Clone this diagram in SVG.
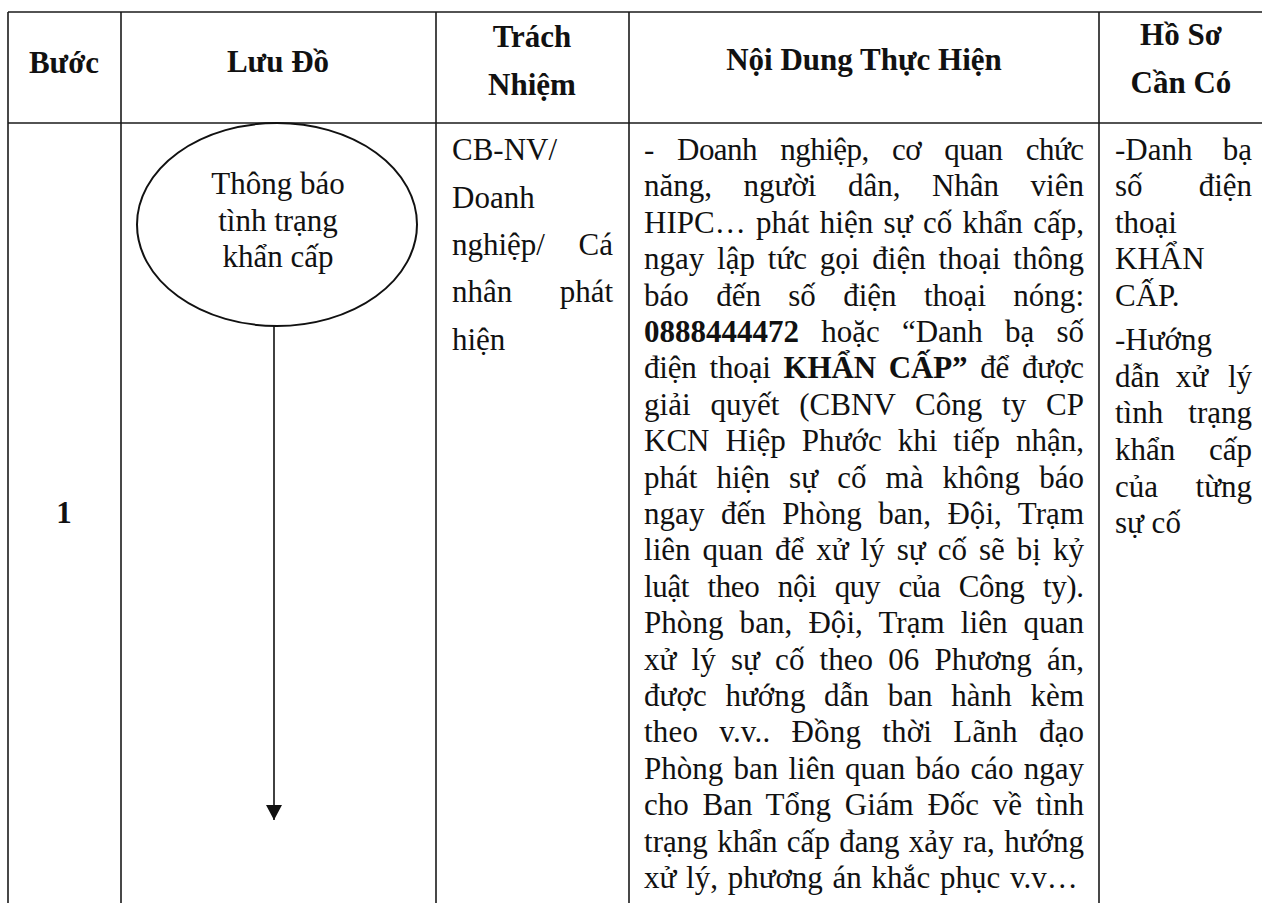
<svg xmlns="http://www.w3.org/2000/svg" width="1262" height="903" viewBox="0 0 1262 903">
  <style>
    .grid { stroke: #1a1a1a; stroke-width: 1.6; fill: none; }
    .t { font-family: "Liberation Serif", "Times New Roman", serif; font-size: 31px; fill: #111; }
    .h { font-family: "Liberation Serif", "Times New Roman", serif; font-size: 31px; font-weight: bold; fill: #111; }
    .c { text-anchor: middle; }
    .e { text-anchor: end; }
    .b { font-weight: bold; }
    .node { fill: none; stroke: #111; stroke-width: 2; }
    .conn { stroke: #111; stroke-width: 1.6; fill: none; }
  </style>
  <defs>
    <marker id="arrow" markerWidth="15" markerHeight="16" refX="15" refY="8" orient="auto" markerUnits="userSpaceOnUse" viewBox="0 0 15 16">
      <path d="M0,0 L15,8 L0,16 Z" fill="#111"/>
    </marker>
  </defs>
  <rect x="0" y="0" width="1262" height="903" fill="#ffffff"/>

  <g id="table-grid" class="grid">
    <line x1="8" y1="12" x2="1262" y2="12"/>
    <line x1="8" y1="123" x2="1262" y2="123"/>
    <line x1="8" y1="12" x2="8" y2="903"/>
    <line x1="121" y1="12" x2="121" y2="903"/>
    <line x1="436" y1="12" x2="436" y2="903"/>
    <line x1="629" y1="12" x2="629" y2="903"/>
    <line x1="1099" y1="12" x2="1099" y2="903"/>
  </g>

  <g id="header">
    <text class="h c" x="64" y="73">Bước</text>
    <text class="h c" x="278" y="72">Lưu Đồ</text>
    <text class="h c" x="532" y="47">Trách</text>
    <text class="h c" x="532" y="95">Nhiệm</text>
    <text class="h c" x="864" y="70">Nội Dung Thực Hiện</text>
    <text class="h c" x="1181" y="45">Hồ Sơ</text>
    <text class="h c" x="1181" y="93">Cần Có</text>
  </g>

  <g id="step-number">
    <text class="h c" x="64" y="523">1</text>
  </g>

  <g id="node-thong-bao">
    <ellipse class="node" cx="277" cy="224.5" rx="140" ry="101.5"/>
    <text class="t c" x="278" y="194">Thông báo</text>
    <text class="t c" x="278" y="231">tình trạng</text>
    <text class="t c" x="278" y="267">khẩn cấp</text>
  </g>

  <g id="connectors">
    <line class="conn" x1="274" y1="326" x2="274" y2="820" marker-end="url(#arrow)"/>
  </g>

  <g id="trach-nhiem">
    <text class="t" x="452" y="160">CB-NV/</text>
    <text class="t" x="452" y="208">Doanh</text>
    <text class="t" x="452" y="255">nghiệp/</text>
    <text class="t e" x="613" y="255">Cá</text>
    <text class="t" x="452" y="302">nhân</text>
    <text class="t e" x="613" y="302">phát</text>
    <text class="t" x="452" y="350">hiện</text>
  </g>

  <g id="noi-dung">
    <text class="t" x="644" y="160" word-spacing="16" textLength="440" lengthAdjust="spacing">- Doanh nghiệp, cơ quan chức</text>
    <text class="t" x="644" y="196.4" word-spacing="23.6" textLength="440" lengthAdjust="spacing">năng, người dân, Nhân viên</text>
    <text class="t" x="644" y="232.8" word-spacing="2.6" textLength="440" lengthAdjust="spacing">HIPC… phát hiện sự cố khẩn cấp,</text>
    <text class="t" x="644" y="269.2" word-spacing="5" textLength="440" lengthAdjust="spacing">ngay lập tức gọi điện thoại thông</text>
    <text class="t" x="644" y="305.6" word-spacing="19.6" textLength="440" lengthAdjust="spacing">báo đến số điện thoại nóng:</text>
    <text class="t" x="644" y="342" word-spacing="14.4" textLength="440" lengthAdjust="spacing"><tspan class="b">0888444472</tspan> hoặc “Danh bạ số</text>
    <text class="t" x="644" y="378.4" word-spacing="5.3" textLength="440" lengthAdjust="spacing">điện thoại <tspan class="b">KHẨN CẤP”</tspan> để được</text>
    <text class="t" x="644" y="414.8" word-spacing="12" textLength="440" lengthAdjust="spacing">giải quyết (CBNV Công ty CP</text>
    <text class="t" x="644" y="451.2" word-spacing="8.2" textLength="440" lengthAdjust="spacing">KCN Hiệp Phước khi tiếp nhận,</text>
    <text class="t" x="644" y="487.6" word-spacing="11.4" textLength="440" lengthAdjust="spacing">phát hiện sự cố mà không báo</text>
    <text class="t" x="644" y="524" word-spacing="8.6" textLength="440" lengthAdjust="spacing">ngay đến Phòng ban, Đội, Trạm</text>
    <text class="t" x="644" y="560.4" word-spacing="4.25" textLength="440" lengthAdjust="spacing">liên quan để xử lý sự cố sẽ bị kỷ</text>
    <text class="t" x="644" y="596.8" word-spacing="11" textLength="440" lengthAdjust="spacing">luật theo nội quy của Công ty).</text>
    <text class="t" x="644" y="633.2" word-spacing="8.3" textLength="440" lengthAdjust="spacing">Phòng ban, Đội, Trạm liên quan</text>
    <text class="t" x="644" y="669.6" word-spacing="7.4" textLength="440" lengthAdjust="spacing">xử lý sự cố theo 06 Phương án,</text>
    <text class="t" x="644" y="706" word-spacing="10.8" textLength="440" lengthAdjust="spacing">được hướng dẫn ban hành kèm</text>
    <text class="t" x="644" y="742.4" word-spacing="13.3" textLength="440" lengthAdjust="spacing">theo v.v.. Đồng thời Lãnh đạo</text>
    <text class="t" x="644" y="778.8" word-spacing="2.45" textLength="440" lengthAdjust="spacing">Phòng ban liên quan báo cáo ngay</text>
    <text class="t" x="644" y="815.2" word-spacing="5.9" textLength="440" lengthAdjust="spacing">cho Ban Tổng Giám Đốc về tình</text>
    <text class="t" x="644" y="851.6" word-spacing="1.5" textLength="440" lengthAdjust="spacing">trạng khẩn cấp đang xảy ra, hướng</text>
    <text class="t" x="644" y="888" word-spacing="2">xử lý, phương án khắc phục v.v…</text>
  </g>

  <g id="ho-so">
    <text class="t" x="1115" y="160">-Danh</text>
    <text class="t e" x="1252" y="160">bạ</text>
    <text class="t" x="1115" y="196.4">số</text>
    <text class="t e" x="1252" y="196.4">điện</text>
    <text class="t" x="1115" y="232.8">thoại</text>
    <text class="t" x="1115" y="269.2">KHẨN</text>
    <text class="t" x="1115" y="305.6">CẤP.</text>
    <text class="t" x="1115" y="350">-Hướng</text>
    <text class="t" x="1115" y="387">dẫn</text>
    <text class="t c" x="1192" y="387">xử</text>
    <text class="t e" x="1252" y="387">lý</text>
    <text class="t" x="1115" y="423">tình</text>
    <text class="t e" x="1252" y="423">trạng</text>
    <text class="t" x="1115" y="460">khẩn</text>
    <text class="t e" x="1252" y="460">cấp</text>
    <text class="t" x="1115" y="497">của</text>
    <text class="t e" x="1252" y="497">từng</text>
    <text class="t" x="1115" y="533">sự cố</text>
  </g>
</svg>
